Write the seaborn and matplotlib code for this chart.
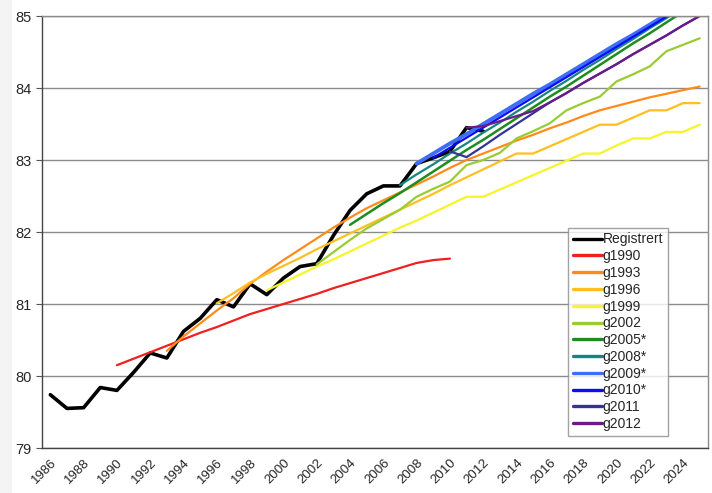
import numpy as np
import pandas as pd
import matplotlib
matplotlib.use("Agg")
import matplotlib.pyplot as plt
from matplotlib.patches import Rectangle
import seaborn as sns

reg_years = list(range(1986, 2013))
registrert = [79.74, 79.55, 79.56, 79.84, 79.80, 80.05, 80.32, 80.25, 80.62, 80.80,
              81.06, 80.96, 81.28, 81.13, 81.36, 81.52, 81.56, 81.95, 82.30, 82.53,
              82.64, 82.64, 82.95, 83.03, 83.12, 83.45, 83.40]

g1990 = [80.15, 80.24, 80.33, 80.42, 80.51, 80.60, 80.68, 80.77, 80.86, 80.93,
         81.00, 81.07, 81.14, 81.22, 81.29, 81.36, 81.43, 81.50, 81.57, 81.61, 81.63]
g1993 = [80.35, 80.55, 80.73, 80.91, 81.08, 81.28, 81.45, 81.61, 81.76, 81.91,
         82.06, 82.20, 82.33, 82.44, 82.55, 82.66, 82.77, 82.89, 83.00, 83.09,
         83.18, 83.27, 83.35, 83.44, 83.52, 83.61, 83.69, 83.75, 83.81, 83.87,
         83.92, 83.97, 84.02]
g1996 = [81.01, 81.15, 81.30, 81.42, 81.53, 81.64, 81.76, 81.87, 81.98, 82.09,
         82.20, 82.31, 82.42, 82.53, 82.65, 82.76, 82.87, 82.98, 83.09, 83.09,
         83.19, 83.29, 83.39, 83.49, 83.49, 83.59, 83.69, 83.69, 83.79, 83.79]
g1999 = [81.19, 81.30, 81.41, 81.52, 81.62, 81.73, 81.84, 81.95, 82.06, 82.16,
         82.27, 82.38, 82.49, 82.49, 82.59, 82.69, 82.79, 82.89, 82.99, 83.09,
         83.09, 83.20, 83.30, 83.30, 83.39, 83.39, 83.49]
g2002 = [81.55, 81.72, 81.89, 82.05, 82.18, 82.31, 82.49, 82.60, 82.70, 82.93,
         83.00, 83.10, 83.30, 83.40, 83.51, 83.69, 83.79, 83.88, 84.09, 84.19,
         84.30, 84.51, 84.60, 84.69]
g2005 = [82.10, 82.25, 82.40, 82.54, 82.69, 82.84, 82.99, 83.14, 83.28, 83.43,
         83.58, 83.73, 83.88, 84.02, 84.17, 84.32, 84.47, 84.62, 84.76, 84.91,
         85.06, 85.21]
g2008 = [82.65, 82.80, 82.94, 83.09, 83.23, 83.38, 83.52, 83.67, 83.81, 83.96,
         84.10, 84.25, 84.39, 84.54, 84.68, 84.83, 84.97, 85.12, 85.26]
g2009 = [82.95, 83.09, 83.23, 83.36, 83.50, 83.64, 83.78, 83.92, 84.05, 84.19,
         84.33, 84.47, 84.61, 84.74, 84.88, 85.02, 85.16, 85.30]
g2010 = [83.03, 83.17, 83.31, 83.45, 83.59, 83.73, 83.87, 84.01, 84.15, 84.29,
         84.43, 84.57, 84.71, 84.85, 84.99, 85.13, 85.27]
g2011 = [83.12, 83.04, 83.19, 83.35, 83.50, 83.65, 83.80, 83.93, 84.07, 84.20,
         84.33, 84.47, 84.60, 84.73, 84.87, 85.00]
g2012 = [83.45, 83.47, 83.54, 83.61, 83.68, 83.80, 83.93, 84.07, 84.20, 84.33,
         84.47, 84.60, 84.73, 84.87, 85.00]

names = ["Registrert", "g1990", "g1993", "g1996", "g1999", "g2002",
         "g2005*", "g2008*", "g2009*", "g2010*", "g2011", "g2012"]
start_years = [1986, 1990, 1993, 1996, 1999, 2002, 2004, 2007, 2008, 2009, 2010, 2011]
series = [registrert, g1990, g1993, g1996, g1999, g2002,
          g2005, g2008, g2009, g2010, g2011, g2012]
colors = ["#000000", "#ee2020", "#ff8c1a", "#ffbf1f", "#f5f52a", "#99cc33",
          "#1f8c1f", "#14877f", "#3d6ef5", "#0a0aff", "#33339a", "#6b1a8a"]
widths = [2.6, 1.6, 1.6, 1.6, 1.6, 1.6, 1.8, 1.6, 2.8, 1.6, 1.6, 1.6]

sns.set_style("white")
plt.rcParams["font.family"] = ["Liberation Sans", "DejaVu Sans"]

fig = plt.figure(figsize=(7.12, 4.93), dpi=100)
# light grey strip along the left edge of the screenshot
fig.patches.append(Rectangle((0, 0), 12 / 712, 1, transform=fig.transFigure,
                             facecolor="#f4f4f4", edgecolor="none", zorder=0))
ax = fig.add_axes([42 / 712, 1 - 448 / 493, 666 / 712, 432 / 493])

for name, y0, vals, c, lw in zip(names, start_years, series, colors, widths):
    yrs = np.arange(y0, y0 + len(vals))
    sns.lineplot(x=yrs, y=vals, color=c, linewidth=lw, label=name, ax=ax)

ax.set_xlim(1985.5, 2025.5)
ax.set_ylim(79, 85)
ax.set_yticks(range(79, 86))
ax.set_yticklabels([str(v) for v in range(79, 86)], fontsize=10.5)
ax.yaxis.grid(True, color="#8c8c8c", linewidth=1.0)
ax.set_axisbelow(True)

ax.set_xticks(range(1986, 2025, 2))
ax.set_xticklabels([str(y) for y in range(1986, 2025, 2)], rotation=45,
                   ha="right", rotation_mode="anchor", fontsize=9.5)
ax.set_xticks(np.arange(1985.5, 2026, 1), minor=True)
ax.tick_params(axis="x", which="major", length=0, pad=6)
ax.tick_params(axis="x", which="minor", length=4, color="#555555", direction="out")
ax.tick_params(axis="y", length=4, color="#555555", direction="out", left=True)
ax.set_xlabel("")
ax.set_ylabel("")

for s in ax.spines.values():
    s.set_color("#8c8c8c")
    s.set_linewidth(1.0)
ax.spines["left"].set_color("#444444")
ax.spines["bottom"].set_color("#444444")

leg = ax.legend(loc="lower left", bbox_to_anchor=(0.79, 0.028), fontsize=10,
                frameon=True, fancybox=False, edgecolor="#8c8c8c",
                handlelength=2.1, handletextpad=0.02, labelspacing=0.2,
                borderpad=0.35, borderaxespad=0)
leg.get_frame().set_linewidth(1.0)
for line in leg.get_lines():
    line.set_linewidth(2.4)

fig.savefig("out.png", dpi=100, facecolor="white")
